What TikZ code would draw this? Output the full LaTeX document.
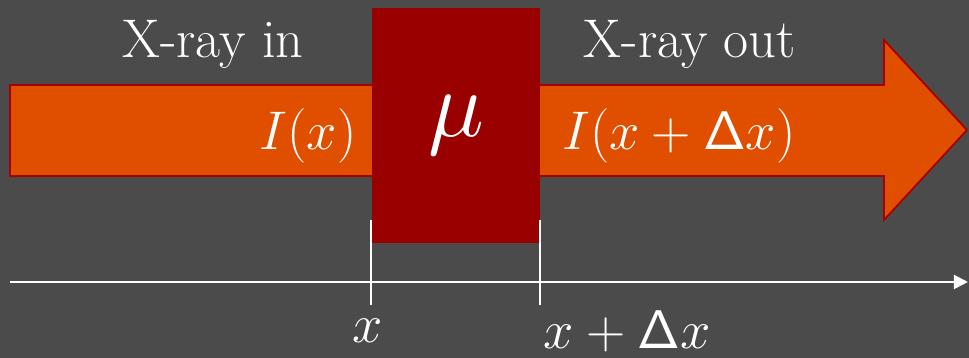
\RequirePackage{fix-cm}
\documentclass[tikz,border=0pt]{standalone}
\usepackage{amsmath,amssymb}
\usepackage{tikz}
\usetikzlibrary{arrows.meta, positioning}
\definecolor{board}{HTML}{4B4B4B}
\definecolor{rayfill}{HTML}{E04E00}
\definecolor{rayline}{HTML}{A80000}
\definecolor{slabred}{HTML}{990000}
\tikzset{
  ray/.style={
    fill=rayfill,
    draw=rayline,
    line width=1pt,
    line join=miter
  },
  slab/.style={
    rectangle,
    fill=slabred,
    inner sep=0pt,
    minimum width=3.36cm,
    minimum height=4.7cm
  },
  chalk/.style={
    text=white,
    inner sep=0pt,
    font=\fontsize{31}{35}\selectfont
  },
  chalkmath/.style={
    chalk,
    font=\fontsize{31}{35}\selectfont
  },
  tickline/.style={
    draw=white,
    line width=1pt
  },
  axisline/.style={
    draw=white,
    line width=1.2pt,
    -{Triangle[length=2.8mm,width=2.8mm]}
  }
}

\begin{document}
\begin{tikzpicture}[x=0.02cm, y=-0.02cm]

% board
\fill[board] (0,0) rectangle (969,358);

% beam
\draw[ray] (10,85) -- (884,85) -- (884,40) -- (967,130) -- (884,220) -- (884,176) -- (10,176) -- cycle;
\node[chalk] (inlabel) at (213,44) {X-ray in};
\node[chalk] (outlabel) at (690,44) {X-ray out};
\node[chalkmath] (inten) at (308,136) {$I(x)$};
\node[chalkmath] (intenout) at (679,136) {$I(x+\mathsf{\Delta}x)$};

% absorbing slice
\node[slab] (slice) at (456,125.5) {};
\node[chalk, font=\fontsize{54}{58}\selectfont] (mu) at (slice) {$\mu$};

% axis
\coordinate (axstart) at (10,282);
\coordinate (axend) at (968,282);
\draw[axisline] (axstart) -- (axend);
\coordinate (ta1) at (371,220);
\coordinate (tb1) at (371,305);
\coordinate (ta2) at (540,220);
\coordinate (tb2) at (540,305);
\draw[tickline] (ta1) -- (tb1);
\draw[tickline] (ta2) -- (tb2);
\node[chalkmath] (xpos) at (368,331) {$x$};
\node[chalkmath] (xdpos) at (627,331) {$x+\mathsf{\Delta}x$};

\end{tikzpicture}
\end{document}
